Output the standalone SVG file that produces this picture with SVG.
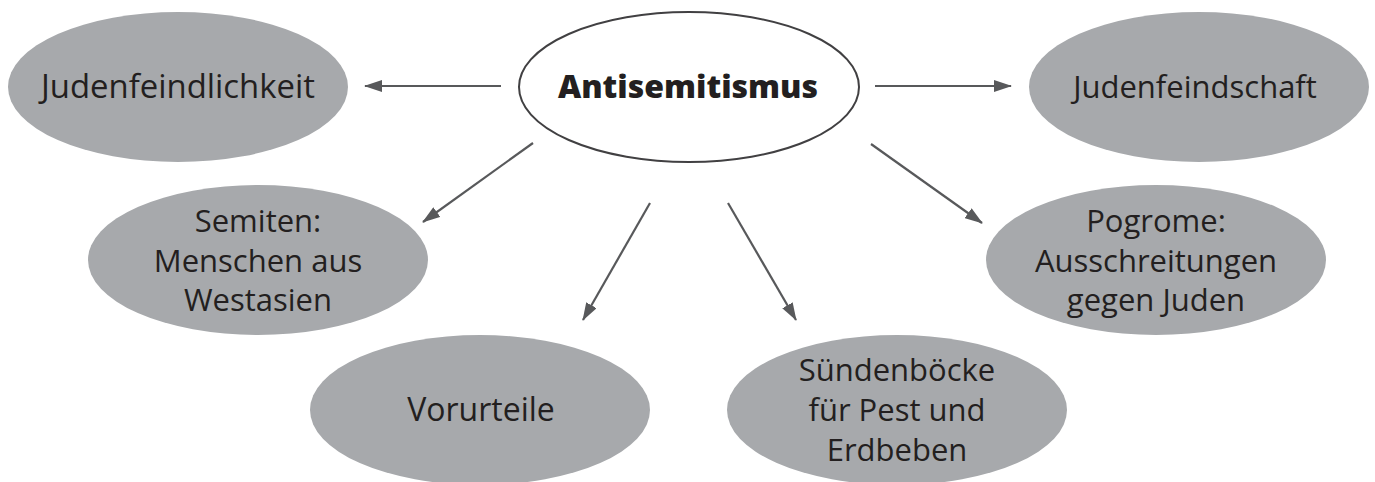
<svg xmlns="http://www.w3.org/2000/svg" width="1375" height="482" viewBox="0 0 1375 482">
  <defs>
    <marker id="arrow" viewBox="0 0 18 12" markerWidth="18" markerHeight="12" refX="17" refY="6" orient="auto" markerUnits="userSpaceOnUse">
      <path d="M0,0 L18,6 L0,12 z" fill="#58595b"/>
    </marker>
    <style>
      .node { fill: #a7a9ac; }
      .main { fill: #ffffff; stroke: #414042; stroke-width: 2; }
      .label { font-family: "Open Sans", "Noto Sans", "Liberation Sans", sans-serif; font-size: 31px; fill: #231f20; text-anchor: middle; }
      .big { font-size: 32px; }
      .bold { font-weight: 800; font-size: 32px; }
      .conn line { stroke: #58595b; stroke-width: 2.2; marker-end: url(#arrow); }
    </style>
  </defs>
  <rect width="1375" height="482" fill="#ffffff"/>

  <g id="connectors" class="conn">
    <line x1="501" y1="86" x2="365" y2="86"/>
    <line x1="875" y1="86" x2="1011" y2="86"/>
    <line x1="533" y1="143" x2="423" y2="222"/>
    <line x1="650" y1="203" x2="583" y2="320"/>
    <line x1="728" y1="203" x2="796" y2="320"/>
    <line x1="871" y1="144" x2="982" y2="223"/>
  </g>

  <g id="node-antisemitismus">
    <ellipse class="main" cx="689" cy="87" rx="170" ry="75"/>
    <text class="label bold" x="688" y="98">Antisemitismus</text>
  </g>
  <g id="node-judenfeindlichkeit">
    <ellipse class="node" cx="178" cy="87" rx="170" ry="75"/>
    <text class="label big" x="178" y="98" textLength="274" lengthAdjust="spacingAndGlyphs">Judenfeindlichkeit</text>
  </g>
  <g id="node-judenfeindschaft">
    <ellipse class="node" cx="1199" cy="87" rx="170" ry="75"/>
    <text class="label" x="1195" y="98">Judenfeindschaft</text>
  </g>
  <g id="node-semiten">
    <ellipse class="node" cx="258" cy="260" rx="170" ry="75"/>
    <text class="label" x="258" y="232">Semiten:</text>
    <text class="label" x="258" y="272">Menschen aus</text>
    <text class="label" x="258" y="311">Westasien</text>
  </g>
  <g id="node-pogrome">
    <ellipse class="node" cx="1156" cy="260" rx="170" ry="75"/>
    <text class="label" x="1156" y="232">Pogrome:</text>
    <text class="label" x="1156" y="272">Ausschreitungen</text>
    <text class="label" x="1156" y="311">gegen Juden</text>
  </g>
  <g id="node-vorurteile">
    <ellipse class="node" cx="480" cy="410" rx="170" ry="75"/>
    <text class="label big" x="481" y="421">Vorurteile</text>
  </g>
  <g id="node-suendenboecke">
    <ellipse class="node" cx="897" cy="410" rx="170" ry="75"/>
    <text class="label" x="897" y="381">Sündenböcke</text>
    <text class="label" x="897" y="421">für Pest und</text>
    <text class="label" x="897" y="461">Erdbeben</text>
  </g>
</svg>
